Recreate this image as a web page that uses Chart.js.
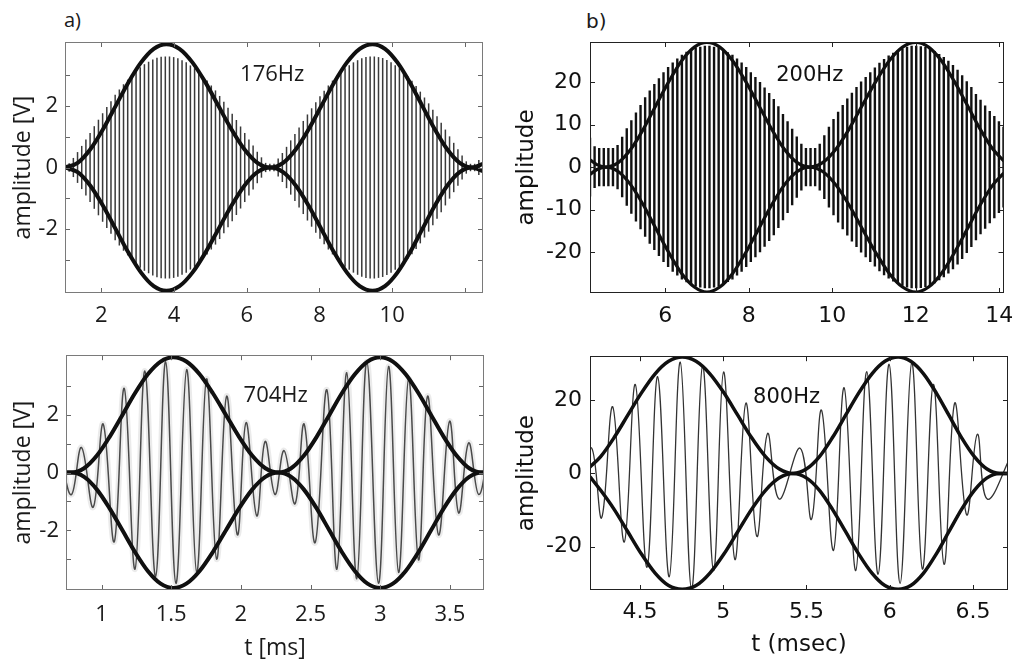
<!DOCTYPE html>
<html><head><meta charset="utf-8">
<script src="https://cdn.jsdelivr.net/npm/chart.js@4.4.1/dist/chart.umd.min.js"></script>
<style>
html,body{margin:0;padding:0;background:#fff;width:1024px;height:672px;overflow:hidden}
canvas{position:absolute;display:block}
.lbl{position:absolute;font-size:20px;line-height:20px;color:#1a1a1a;white-space:nowrap}
</style></head><body>
<div class="lbl" style="left:64px;top:10px;font-family:'Open Sans'">a)</div>
<div class="lbl" style="left:586px;top:11px;font-family:'DejaVu Sans'">b)</div>
<canvas id="cA" width="510" height="335" style="left:0;top:0"></canvas>
<canvas id="cB" width="519" height="335" style="left:505px;top:0"></canvas>
<canvas id="cC" width="510" height="337" style="left:0;top:335px"></canvas>
<canvas id="cD" width="519" height="337" style="left:505px;top:335px"></canvas>
<script>
// ---------- 176 Hz panel (a, top): one vertical stroke per carrier cycle ----------
const t176 = [1.000,1.115,1.230,1.345,1.460,1.575,1.690,1.805,1.920,2.035,
 2.150,2.265,2.380,2.495,2.610,2.725,2.840,2.955,3.070,3.185,
 3.300,3.415,3.530,3.645,3.760,3.875,3.990,4.105,4.220,4.335,
 4.450,4.565,4.680,4.795,4.910,5.025,5.140,5.255,5.370,5.485,
 5.600,5.715,5.830,5.945,6.060,6.175,6.290,6.405,6.520,6.635,
 6.750,6.865,6.980,7.095,7.210,7.325,7.440,7.555,7.670,7.785,
 7.900,8.015,8.130,8.245,8.360,8.475,8.590,8.705,8.820,8.935,
 9.050,9.165,9.280,9.395,9.510,9.625,9.740,9.855,9.970,10.085,
 10.200,10.315,10.430,10.545,10.660,10.775,10.890,11.005,11.120,11.235,
 11.350,11.465,11.580,11.695,11.810,11.925,12.040,12.155,12.270,12.385,
 12.500];
const hi176 = [0.10,0.14,0.31,0.50,0.70,0.91,1.12,1.34,1.55,1.76,
 1.96,2.15,2.36,2.53,2.70,2.85,3.00,3.14,3.25,3.35,
 3.43,3.50,3.56,3.59,3.60,3.60,3.58,3.54,3.48,3.41,
 3.31,3.22,3.10,2.97,2.82,2.66,2.50,2.32,2.13,1.94,
 1.74,1.54,1.33,1.12,0.91,0.71,0.51,0.33,0.15,0.12,
 0.12,0.29,0.47,0.67,0.88,1.09,1.30,1.51,1.72,1.92,
 2.12,2.31,2.49,2.66,2.82,2.97,3.11,3.22,3.32,3.41,
 3.48,3.54,3.58,3.60,3.60,3.58,3.55,3.49,3.41,3.32,
 3.22,3.10,2.96,2.81,2.64,2.46,2.27,2.08,1.87,1.66,
 1.45,1.23,1.01,0.80,0.59,0.39,0.20,0.12,0.12,0.24,
 0.42];
const lo176 = [-0.10,-0.14,-0.31,-0.50,-0.70,-0.91,-1.12,-1.34,-1.55,-1.76,
 -1.96,-2.15,-2.36,-2.53,-2.70,-2.85,-3.00,-3.14,-3.25,-3.35,
 -3.43,-3.50,-3.56,-3.59,-3.60,-3.60,-3.58,-3.54,-3.48,-3.41,
 -3.31,-3.22,-3.10,-2.97,-2.82,-2.66,-2.50,-2.32,-2.13,-1.94,
 -1.74,-1.54,-1.33,-1.12,-0.91,-0.71,-0.51,-0.33,-0.15,-0.12,
 -0.12,-0.29,-0.47,-0.67,-0.88,-1.09,-1.30,-1.51,-1.72,-1.92,
 -2.12,-2.31,-2.49,-2.66,-2.82,-2.97,-3.11,-3.22,-3.32,-3.41,
 -3.48,-3.54,-3.58,-3.60,-3.60,-3.58,-3.55,-3.49,-3.41,-3.32,
 -3.22,-3.10,-2.96,-2.81,-2.64,-2.46,-2.27,-2.08,-1.87,-1.66,
 -1.45,-1.23,-1.01,-0.80,-0.59,-0.39,-0.20,-0.12,-0.12,-0.24,
 -0.42];
const envT176 = [1.000,1.349,1.698,2.046,2.395,2.744,3.093,3.441,3.790,4.148,4.505,4.863,5.220,5.578,5.935,6.293,6.650,7.001,7.353,7.704,8.055,8.406,8.758,9.109,9.460,9.803,10.145,10.488,10.830,11.173,11.515,11.858,12.200,12.500];
const envUp176 = [0,0.15,0.59,1.24,2.0,2.76,3.41,3.85,4.0,3.85,3.41,2.76,2.0,1.24,0.59,0.15,0,0.15,0.59,1.24,2.0,2.76,3.41,3.85,4.0,3.85,3.41,2.76,2.0,1.24,0.59,0.15,0,0.12];
const envLo176 = [0,-0.15,-0.59,-1.24,-2.0,-2.76,-3.41,-3.85,-4.0,-3.85,-3.41,-2.76,-2.0,-1.24,-0.59,-0.15,0,-0.15,-0.59,-1.24,-2.0,-2.76,-3.41,-3.85,-4.0,-3.85,-3.41,-2.76,-2.0,-1.24,-0.59,-0.15,0,-0.12];
const xTicks176 = [2,4,6,8,10,12];
const xLabels176 = ['2','4','6','8','10',''];
const yTicks176 = [-3,-2,-1,0,1,2,3];
const yLabels176 = ['','-2','','0','','2',''];

// ---------- 200 Hz panel (b, top): one vertical stroke per carrier cycle ----------
const t200 = [4.20,4.31,4.42,4.53,4.64,4.75,4.86,4.97,5.08,5.19,
 5.30,5.41,5.52,5.63,5.74,5.85,5.96,6.07,6.18,6.29,
 6.40,6.51,6.62,6.73,6.84,6.95,7.06,7.17,7.28,7.39,
 7.50,7.61,7.72,7.83,7.94,8.05,8.16,8.27,8.38,8.49,
 8.60,8.71,8.82,8.93,9.04,9.15,9.26,9.37,9.48,9.59,
 9.70,9.81,9.92,10.03,10.14,10.25,10.36,10.47,10.58,10.69,
 10.80,10.91,11.02,11.13,11.24,11.35,11.46,11.57,11.68,11.79,
 11.90,12.01,12.12,12.23,12.34,12.45,12.56,12.67,12.78,12.89,
 13.00,13.11,13.22,13.33,13.44,13.55,13.66,13.77,13.88,13.99,
 14.10];
const hi200 = [6.9,4.9,4.5,4.5,4.5,4.5,5.2,7.1,9.1,11.0,
 12.8,14.6,16.4,18.0,19.5,20.9,22.3,23.5,24.6,25.5,
 26.4,27.1,27.6,28.1,28.3,28.5,28.5,28.3,28.1,27.6,
 27.0,26.4,25.5,24.6,23.5,22.3,21.2,20.0,18.7,17.4,
 16.0,14.3,12.5,10.8,9.0,7.2,5.5,4.5,4.5,4.5,
 5.5,7.5,9.5,11.3,13.0,14.6,16.1,17.5,18.8,20.1,
 21.2,22.3,23.4,24.5,25.4,26.2,26.9,27.5,27.9,28.3,
 28.5,28.5,28.4,28.2,27.8,27.3,26.6,25.9,25.0,24.0,
 22.9,21.6,20.2,18.8,17.2,15.8,14.5,13.2,12.0,10.8,
 9.5];
const lo200 = [-6.9,-4.9,-4.5,-4.5,-4.5,-4.5,-5.2,-7.1,-9.1,-11.0,
 -12.8,-14.6,-16.4,-18.0,-19.5,-20.9,-22.3,-23.5,-24.6,-25.5,
 -26.4,-27.1,-27.6,-28.1,-28.3,-28.5,-28.5,-28.3,-28.1,-27.6,
 -27.0,-26.4,-25.5,-24.6,-23.5,-22.3,-21.2,-20.0,-18.7,-17.4,
 -16.0,-14.3,-12.5,-10.8,-9.0,-7.2,-5.5,-4.5,-4.5,-4.5,
 -5.5,-7.5,-9.5,-11.3,-13.0,-14.6,-16.1,-17.5,-18.8,-20.1,
 -21.2,-22.3,-23.4,-24.5,-25.4,-26.2,-26.9,-27.5,-27.9,-28.3,
 -28.5,-28.5,-28.4,-28.2,-27.8,-27.3,-26.6,-25.9,-25.0,-24.0,
 -22.9,-21.6,-20.2,-18.8,-17.2,-15.8,-14.5,-13.2,-12.0,-10.8,
 -9.5];
const envT200 = [4.200,4.390,4.580,4.883,5.185,5.488,5.790,6.093,6.395,6.698,7.000,7.308,7.615,7.923,8.230,8.538,8.845,9.153,9.460,9.778,10.095,10.413,10.730,11.048,11.365,11.683,12.000,12.306,12.613,12.919,13.225,13.531,13.838,14.100];
const envUp200 = [1.7,0.45,0,1.1,4.3,9.1,14.7,20.2,25.0,28.2,29.3,28.2,25.0,20.2,14.7,9.1,4.3,1.1,0,1.1,4.3,9.1,14.7,20.2,25.0,28.2,29.3,28.2,25.0,20.2,14.7,9.1,4.3,1.5];
const envLo200 = [-1.7,-0.45,0,-1.1,-4.3,-9.1,-14.7,-20.2,-25.0,-28.2,-29.4,-28.2,-25.0,-20.2,-14.7,-9.1,-4.3,-1.1,0,-1.1,-4.3,-9.1,-14.7,-20.2,-25.0,-28.2,-29.4,-28.2,-25.0,-20.2,-14.7,-9.1,-4.3,-1.5];
const xTicks200 = [6,8,10,12,14];
const xLabels200 = ['6','8','10','12','14'];
const yTicks200 = [-20,-10,0,10,20];
const yLabels200 = ['-20','-10','0','10','20'];

// ---------- 704 Hz panel (a, bottom): carrier peaks and troughs ----------
const t704 = [0.710,0.784,0.856,0.940,1.012,1.091,1.163,1.240,1.311,1.388,1.460,1.534,1.611,1.683,1.754,1.826,1.898,1.975,2.037,2.114,2.174,2.245,2.310,2.389,2.454,2.533,2.617,2.689,2.760,2.832,2.904,2.988,3.060,3.132,3.204,3.275,3.340,3.419,3.498,3.563,3.635,3.707,3.780];
const v704 = [0.4,-0.76,0.87,-1.2,1.68,-2.4,2.92,-3.35,3.52,-3.6,3.84,-3.84,3.57,-3.46,3.25,-3.0,2.65,-2.16,1.73,-1.5,1.08,-0.76,0.76,-1.08,1.68,-2.43,2.87,-3.35,3.46,-3.68,3.84,-3.84,3.68,-3.46,3.25,-3.03,2.65,-2.16,1.78,-1.4,1.03,-0.76,0.8];
const envT704 = [0.745,0.784,0.875,0.967,1.058,1.150,1.241,1.332,1.424,1.515,1.609,1.704,1.798,1.893,1.987,2.081,2.176,2.270,2.361,2.453,2.544,2.635,2.726,2.818,2.909,3.000,3.091,3.183,3.274,3.365,3.456,3.548,3.639,3.730,3.745];
const envUp704 = [0,0,0.15,0.59,1.24,2.0,2.76,3.41,3.85,4.0,3.85,3.41,2.76,2.0,1.24,0.59,0.15,0,0.15,0.59,1.24,2.0,2.76,3.41,3.85,4.0,3.85,3.41,2.76,2.0,1.24,0.59,0.15,0,0];
const envLo704 = [0,0,-0.15,-0.59,-1.24,-2.0,-2.76,-3.41,-3.85,-4.0,-3.85,-3.41,-2.76,-2.0,-1.24,-0.59,-0.15,0,-0.15,-0.59,-1.24,-2.0,-2.76,-3.41,-3.85,-4.0,-3.85,-3.41,-2.76,-2.0,-1.24,-0.59,-0.15,0,0];
const xTicks704 = [1,1.5,2,2.5,3,3.5];
const xLabels704 = ['1','1.5','2','2.5','3','3.5'];
const yTicks704 = [-3,-2,-1,0,1,2,3];
const yLabels704 = ['','-2','','0','','2',''];

// ---------- 800 Hz panel (b, bottom): carrier peaks and troughs ----------
const t800 = [4.140,4.210,4.270,4.336,4.406,4.472,4.542,4.606,4.676,4.742,4.810,4.876,4.942,5.002,5.070,5.136,5.202,5.266,5.336,5.462,5.530,5.590,5.662,5.726,5.796,5.862,5.930,5.996,6.062,6.132,6.196,6.262,6.326,6.390,6.462,6.526,6.586,6.740];
const v800 = [-4,6.9,-12.1,18.2,-18.7,24.3,-25.6,26.4,-28.2,30.4,-31.5,29.4,-26.5,27.7,-23.5,19.2,-17.2,10.9,-7.0,6.9,-12.5,17.3,-21.0,23.4,-26.5,27.8,-27.5,29.8,-30.0,30.2,-26.1,24.3,-24.8,19.2,-11.3,10.7,-7.0,6.0];
const envT800 = [4.200,4.264,4.345,4.427,4.509,4.591,4.672,4.754,4.837,4.920,5.004,5.087,5.170,5.254,5.337,5.420,5.499,5.578,5.656,5.735,5.814,5.893,5.971,6.050,6.126,6.203,6.279,6.355,6.431,6.508,6.584,6.660,6.710];
const envUp800 = [1.8,4.6,9.8,15.9,22.0,27.2,30.6,31.8,30.6,27.2,22.0,15.9,9.8,4.6,1.2,0,1.2,4.6,9.8,15.9,22.0,27.2,30.6,31.8,30.6,27.2,22.0,15.9,9.8,4.6,1.2,0,0];
const envLo800 = [-0.9,-4.6,-9.8,-15.9,-22.0,-27.2,-30.6,-31.6,-30.6,-27.2,-22.0,-15.9,-9.8,-4.6,-1.2,0,-1.2,-4.6,-9.8,-15.9,-22.0,-27.2,-30.6,-31.6,-30.6,-27.2,-22.0,-15.9,-9.8,-4.6,-1.2,0,0];
const xTicks800 = [4.5,5,5.5,6,6.5];
const xLabels800 = ['4.5','5','5.5','6','6.5'];
const yTicks800 = [-20,0,20];
const yLabels800 = ['-20','0','20'];

// ---------- helpers ----------
const FONT_A = "'Open Sans', 'Noto Sans', sans-serif";
const FONT_B = "'DejaVu Sans', 'Liberation Sans', sans-serif";

function pts(T, V) { return T.map((t, i) => ({x: t, y: V[i]})); }
function spans(T, L, H) { return T.map((t, i) => ({x: t, y: [L[i], H[i]]})); }

function makeFrame(o) {
  return {
    id: 'frame',
    afterDatasetsDraw(chart) {
      const {ctx, chartArea: a, scales} = chart;
      const xs = scales.x, ys = scales.y;
      ctx.save();
      ctx.strokeStyle = o.tickColor; ctx.lineWidth = 1;
      ctx.beginPath();
      xs.ticks.forEach(t => {
        const p = Math.round(xs.getPixelForValue(t.value)) + 0.5;
        ctx.moveTo(p, a.bottom); ctx.lineTo(p, a.bottom - o.len);
        ctx.moveTo(p, a.top); ctx.lineTo(p, a.top + o.len);
      });
      ys.ticks.forEach(t => {
        const p = Math.round(ys.getPixelForValue(t.value)) + 0.5;
        ctx.moveTo(a.left, p); ctx.lineTo(a.left + o.len, p);
        ctx.moveTo(a.right, p); ctx.lineTo(a.right - o.len, p);
      });
      ctx.stroke();
      ctx.strokeStyle = o.frameColor; ctx.lineWidth = 1;
      ctx.strokeRect(Math.round(a.left) + 0.5, Math.round(a.top) + 0.5, Math.round(a.width) - 1, Math.round(a.height) - 1);
      ctx.font = o.noteSize + 'px ' + o.font;
      ctx.fillStyle = o.textColor; ctx.textAlign = 'center'; ctx.textBaseline = 'middle';
      ctx.fillText(o.note, xs.getPixelForValue(o.noteX), ys.getPixelForValue(o.noteY));
      ctx.restore();
    }
  };
}

function panel(id, o) {
  const axisX = {
    type: 'linear', min: o.xMin, max: o.xMax, offset: false,
    grid: {display: false, drawTicks: false, offset: false}, border: {display: false},
    afterBuildTicks: s => { s.ticks = o.xTicks.map(v => ({value: v})); },
    afterFit: s => { s.height = o.xH; },
    ticks: {autoSkip: false, maxRotation: 0, minRotation: 0, padding: o.xPad,
            font: {family: o.font, size: o.tickSize}, color: o.textColor,
            callback: (v, i) => o.xLabels[i]},
    title: o.xTitle ? {display: true, text: o.xTitle, font: {family: o.font, size: o.titleSize},
            color: o.textColor, padding: {top: 0, bottom: o.xTitlePad}} : {display: false}
  };
  const axisY = {
    type: 'linear', min: o.yMin, max: o.yMax,
    grid: {display: false, drawTicks: false}, border: {display: false},
    afterBuildTicks: s => { s.ticks = o.yTicks.map(v => ({value: v})); },
    afterFit: s => { s.width = o.yW; },
    ticks: {autoSkip: false, padding: o.yPad,
            font: {family: o.font, size: o.tickSize}, color: o.textColor,
            callback: (v, i) => o.yLabels[i]},
    title: {display: true, text: o.yTitle, font: {family: o.font, size: o.titleSize},
            color: o.textColor, padding: {top: o.yTitlePad, bottom: 0}}
  };
  return new Chart(document.getElementById(id), {
    type: 'line',
    data: {datasets: o.datasets},
    options: {
      responsive: false, animation: false, events: [],
      layout: {padding: o.pad},
      plugins: {legend: {display: false}, tooltip: {enabled: false}},
      elements: {point: {radius: 0}},
      scales: {x: axisX, y: axisY}
    },
    plugins: [makeFrame(o)]
  });
}

function env(T, V, w) {
  return {data: pts(T, V), borderColor: '#101010', borderWidth: w, cubicInterpolationMode: 'monotone',
          fill: false, pointRadius: 0, borderCapStyle: 'round', borderJoinStyle: 'round'};
}
function carrier(T, V, color, w, tension) {
  return {data: pts(T, V), borderColor: color, borderWidth: w, tension: tension,
          fill: false, pointRadius: 0, borderJoinStyle: 'round'};
}
function strokes(T, L, H, color, w) {
  return {type: 'bar', data: spans(T, L, H), backgroundColor: color, borderWidth: 0,
          barThickness: w, grouped: false, inflateAmount: 0};
}

// a) top
panel('cA', {
  pad: {left: 0, top: 42, right: 27, bottom: 0}, yW: 65, xH: 42,
  xMin: 1.0, xMax: 12.5, yMin: -4.07, yMax: 4.07,
  xTicks: xTicks176, xLabels: xLabels176, yTicks: yTicks176, yLabels: yLabels176,
  font: FONT_A, tickSize: 22, titleSize: 23, noteSize: 22, textColor: '#1a1a1a',
  xPad: 10, yPad: 7, yTitle: 'amplitude [V]', yTitlePad: 10,
  tickColor: '#666', frameColor: '#7a7a7a', len: 5,
  note: '176Hz', noteX: 6.7, noteY: 3.0,
  datasets: [env(envT176, envUp176, 4), env(envT176, envLo176, 4),
             strokes(t176, lo176, hi176, '#3a3a3a', 1.5)]
});

// b) top
panel('cB', {
  pad: {left: 0, top: 42, right: 16, bottom: 0}, yW: 85, xH: 42,
  xMin: 4.2, xMax: 14.1, yMin: -29.6, yMax: 29.4,
  xTicks: xTicks200, xLabels: xLabels200, yTicks: yTicks200, yLabels: yLabels200,
  font: FONT_B, tickSize: 22, titleSize: 23, noteSize: 21, textColor: '#111',
  xPad: 10.5, yPad: 8, yTitle: 'amplitude', yTitlePad: 8,
  tickColor: '#222', frameColor: '#222', len: 5,
  note: '200Hz', noteX: 9.46, noteY: 21.6,
  datasets: [env(envT200, envUp200, 3.2), env(envT200, envLo200, 3.2),
             strokes(t200, lo200, hi200, '#111', 2.4)]
});

// a) bottom
panel('cC', {
  pad: {left: 0, top: 4, right: 26, bottom: 0}, yW: 66, xH: 82,
  xMin: 0.745, xMax: 3.745, yMin: -4.07, yMax: 4.07,
  xTicks: xTicks704, xLabels: xLabels704, yTicks: yTicks704, yLabels: yLabels704,
  font: FONT_A, tickSize: 22, titleSize: 23, noteSize: 22, textColor: '#1a1a1a',
  xPad: 12, yPad: 7, yTitle: 'amplitude [V]', yTitlePad: 10,
  xTitle: 't [ms]', xTitlePad: 10,
  tickColor: '#666', frameColor: '#7a7a7a', len: 5,
  note: '704Hz', noteX: 2.25, noteY: 2.65,
  datasets: [env(envT704, envUp704, 4), env(envT704, envLo704, 4),
             carrier(t704, v704, '#4a4a4a', 1.5, 0.4),
             carrier(t704, v704, 'rgba(0,0,0,0.08)', 6, 0.4)]
});

// b) bottom
panel('cD', {
  pad: {left: 0, top: 4, right: 16, bottom: 0}, yW: 85, xH: 82,
  xMin: 4.2, xMax: 6.71, yMin: -31.8, yMax: 32,
  xTicks: xTicks800, xLabels: xLabels800, yTicks: yTicks800, yLabels: yLabels800,
  font: FONT_B, tickSize: 22, titleSize: 23, noteSize: 21, textColor: '#111',
  xPad: 9.3, yPad: 8, yTitle: 'amplitude', yTitlePad: 8,
  xTitle: 't (msec)', xTitlePad: 13,
  tickColor: '#222', frameColor: '#222', len: 5,
  note: '800Hz', noteX: 5.38, noteY: 20.8,
  datasets: [env(envT800, envUp800, 3.5), env(envT800, envLo800, 3.5),
             carrier(t800, v800, '#333', 1.3, 0.4)]
});
</script>
</body></html>
